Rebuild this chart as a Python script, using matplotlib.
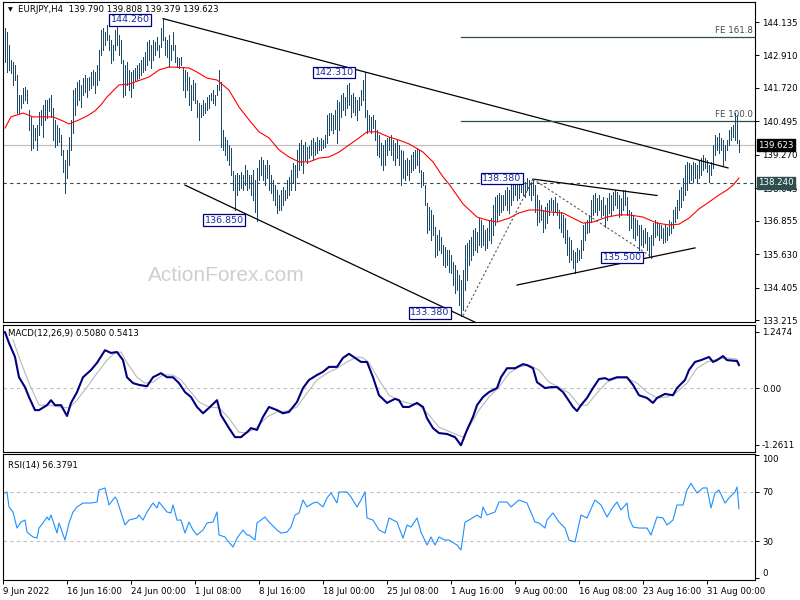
import matplotlib
matplotlib.use("Agg")
import matplotlib.pyplot as plt
import matplotlib.transforms as mtransforms

# EURJPY H4, una barra cada 4 horas (maximos y minimos)
maximos = [
    143.92, 143.77, 143.29, 142.74, 142.67, 142.56, 142.19, 141.46, 141.46, 141.72,
    141.75, 141.64, 140.91, 140.66, 140.36, 140.25, 140.36, 140.84, 140.91, 141.10,
    141.28, 141.28, 141.35, 141.46, 140.98, 140.55, 140.36, 140.25, 140.00, 139.45,
    139.08, 139.45, 139.92, 140.55, 141.64, 141.72, 141.94, 142.01, 141.83, 142.08,
    142.19, 142.08, 142.12, 142.30, 142.38, 142.30, 142.56, 143.11, 143.84, 143.92,
    143.77, 144.03, 143.66, 143.48, 143.29, 143.84, 144.21, 143.66, 143.48, 142.74,
    142.56, 142.67, 142.38, 142.30, 142.38, 142.45, 142.56, 142.63, 142.74, 142.85,
    143.04, 143.40, 143.48, 143.29, 143.48, 143.40, 143.59, 143.29, 143.92, 144.26,
    143.59, 143.48, 143.66, 143.29, 143.77, 143.29, 142.85, 142.82, 142.85, 142.49,
    142.38, 142.30, 142.12, 141.83, 142.01, 141.90, 141.28, 141.17, 141.10, 141.28,
    141.17, 141.39, 141.46, 141.53, 141.64, 141.46, 141.83, 142.38, 141.94, 140.18,
    139.92, 139.81, 139.63, 139.52, 138.68, 138.53, 138.60, 138.53, 138.64, 138.53,
    138.90, 138.71, 138.53, 138.53, 138.71, 138.35, 138.79, 139.08, 139.19, 139.08,
    138.90, 139.08, 138.90, 138.53, 138.35, 138.16, 137.98, 137.80, 137.98, 138.09,
    137.98, 138.35, 138.46, 138.71, 138.97, 138.90, 139.45, 139.70, 139.81, 139.63,
    139.74, 139.56, 139.59, 139.81, 139.88, 139.74, 139.92, 139.81, 139.88, 139.81,
    140.00, 140.73, 140.80, 140.80, 140.73, 140.91, 141.28, 141.21, 141.46, 141.53,
    141.39, 141.83, 141.90, 141.46, 141.53, 141.39, 141.28, 141.39, 141.64, 142.01,
    142.31, 140.91, 140.73, 140.66, 140.73, 140.55, 140.18, 140.00, 139.70, 139.63,
    139.81, 139.88, 139.92, 140.00, 139.81, 139.70, 139.81, 139.63, 139.45, 139.41,
    139.08, 139.15, 139.08, 139.26, 139.37, 139.45, 139.52, 139.45, 138.71, 138.64,
    138.16, 137.50, 137.36, 137.25, 137.07, 136.63, 136.33, 136.52, 136.26, 135.97,
    135.89, 135.78, 135.78, 135.60, 135.34, 135.23, 135.05, 134.87, 134.68, 135.05,
    135.97, 136.04, 136.15, 136.26, 136.52, 136.59, 136.44, 136.95, 136.88, 136.70,
    136.52, 136.59, 136.88, 136.95, 137.43, 137.73, 137.80, 137.87, 137.80, 137.80,
    137.98, 138.09, 137.98, 138.24, 138.35, 138.42, 138.28, 138.16, 138.42, 138.35,
    138.28, 138.42, 138.35, 138.28, 138.38, 138.16, 137.80, 137.61, 137.43, 137.25,
    137.36, 137.50, 137.61, 137.69, 137.61, 137.73, 137.50, 137.25, 137.18, 137.07,
    136.95, 136.52, 136.26, 136.15, 135.78, 135.71, 135.86, 135.78, 136.15, 136.70,
    136.81, 136.88, 137.07, 137.61, 137.80, 137.87, 137.69, 137.80, 137.61, 137.73,
    137.43, 137.69, 137.87, 137.80, 137.91, 137.98, 137.91, 137.80, 137.69, 137.98,
    137.98, 137.73, 137.25, 137.18, 137.07, 136.95, 136.88, 136.70, 136.70, 136.52,
    136.59, 136.44, 136.26, 136.33, 136.77, 136.88, 136.81, 136.77, 136.70, 136.59,
    136.70, 136.63, 136.88, 136.81, 137.25, 137.36, 137.61, 137.98, 138.09, 138.42,
    138.90, 139.01, 138.97, 138.90, 139.01, 138.97, 138.90, 139.08, 139.15, 139.26,
    139.15, 139.08, 138.90, 139.01, 139.63, 140.00, 139.92, 140.07, 139.88, 139.81,
    139.63, 139.81, 140.18, 140.29, 140.36, 140.80, 140.73, 139.81,
]
minimos = [
    142.67, 142.30, 142.38, 142.27, 141.83, 142.01, 140.80, 140.80, 140.98, 141.17,
    141.28, 141.17, 140.18, 139.45, 139.52, 139.81, 139.45, 140.00, 140.36, 139.92,
    140.55, 140.62, 140.88, 140.66, 139.81, 139.56, 139.63, 139.74, 139.26, 138.64,
    137.87, 138.42, 138.90, 139.45, 140.07, 140.73, 141.10, 141.28, 141.02, 141.46,
    141.57, 141.39, 141.64, 141.72, 141.83, 141.53, 141.83, 142.01, 142.93, 143.11,
    143.29, 143.48, 143.11, 142.63, 142.74, 143.11, 143.29, 142.93, 142.63, 141.39,
    141.46, 141.83, 141.64, 141.39, 141.72, 142.01, 142.01, 142.08, 142.19, 142.30,
    142.38, 142.56, 142.74, 142.45, 142.74, 142.93, 143.11, 142.85, 143.22, 143.48,
    142.93, 142.85, 142.49, 142.74, 143.11, 142.67, 142.49, 142.45, 142.56, 141.64,
    141.39, 141.64, 141.10, 140.91, 141.28, 141.17, 140.66, 139.81, 140.66, 140.73,
    140.80, 140.91, 140.98, 141.28, 141.17, 141.10, 141.46, 141.64, 139.56, 139.45,
    139.26, 139.08, 138.90, 138.53, 137.98, 137.25, 137.80, 137.98, 138.05, 137.98,
    138.16, 137.98, 138.05, 137.80, 137.61, 137.18, 136.85, 138.35, 138.53, 138.35,
    138.16, 138.42, 137.98, 137.87, 137.61, 137.43, 137.14, 137.25, 137.25, 137.43,
    137.61, 137.69, 137.80, 137.98, 138.24, 137.98, 138.46, 138.71, 138.90, 138.60,
    139.08, 138.97, 139.15, 139.26, 139.08, 139.26, 139.34, 139.45, 139.45, 139.52,
    139.56, 139.70, 140.00, 140.18, 140.07, 140.22, 139.70, 140.18, 140.66, 140.91,
    140.73, 140.98, 141.10, 140.66, 140.84, 140.73, 140.55, 140.91, 141.10, 141.28,
    140.66, 140.07, 140.18, 140.07, 140.25, 139.81, 139.26, 139.19, 138.90, 138.71,
    138.90, 139.26, 139.45, 139.26, 139.08, 138.90, 139.15, 138.90, 138.16, 138.42,
    138.35, 138.53, 138.35, 138.64, 138.71, 138.79, 138.90, 138.64, 138.09, 138.16,
    137.43, 136.41, 136.52, 136.15, 136.33, 135.53, 135.60, 135.78, 135.67, 135.23,
    135.16, 135.23, 134.98, 134.94, 134.50, 134.21, 134.32, 133.77, 133.38, 133.59,
    134.32, 134.68, 135.23, 135.42, 135.60, 135.78, 135.71, 135.97, 135.89, 135.97,
    135.78, 135.86, 136.15, 136.04, 136.33, 136.70, 136.88, 137.07, 137.18, 137.25,
    137.43, 137.25, 137.14, 137.43, 137.61, 137.80, 137.61, 137.69, 137.91, 137.80,
    137.73, 137.98, 137.80, 137.61, 137.80, 137.18, 136.70, 136.81, 136.88, 136.44,
    136.59, 136.77, 137.07, 137.25, 137.07, 137.18, 137.07, 136.59, 136.44, 136.26,
    136.04, 135.60, 135.34, 135.42, 135.12, 134.94, 135.34, 135.42, 135.49, 135.78,
    136.15, 136.41, 136.44, 136.81, 137.07, 137.18, 137.07, 137.25, 136.99, 137.07,
    136.63, 136.88, 137.14, 137.07, 137.25, 137.43, 137.32, 136.99, 137.07, 137.25,
    137.43, 137.07, 136.52, 136.59, 136.22, 136.15, 136.33, 135.78, 135.97, 135.89,
    136.04, 135.78, 135.53, 135.50, 135.97, 136.26, 136.33, 136.15, 136.22, 136.04,
    136.08, 136.15, 136.33, 136.41, 136.59, 136.81, 136.95, 137.25, 137.36, 137.61,
    137.80, 137.98, 138.24, 138.35, 138.28, 138.42, 138.24, 138.42, 138.53, 138.71,
    138.79, 138.64, 138.28, 138.53, 138.79, 139.26, 139.45, 139.34, 139.45, 138.90,
    139.08, 139.45, 139.63, 139.81, 139.92, 139.81, 139.70, 139.38,
]

# media movil (roja): numero de barra y valor
ma_barra = [0, 3, 9, 14, 24, 29, 32, 37, 41, 45, 48, 51, 54, 57, 62, 72, 77, 82, 92, 96,
            101, 106, 112, 117, 122, 127, 132, 137, 142, 147, 152, 157, 162, 167, 172, 177,
            181, 186, 192, 197, 202, 209, 214, 219, 222, 229, 236, 241, 246, 252, 257, 262,
            267, 272, 279, 284, 289, 294, 301, 307, 312, 319, 326, 332, 337, 342, 347, 352,
            357, 361, 364, 367]
ma_valor = [140.25, 140.66, 140.80, 140.66, 140.66, 140.51, 140.40, 140.55, 140.69, 140.88,
            141.10, 141.39, 141.61, 141.83, 141.86, 142.12, 142.38, 142.49, 142.45, 142.30,
            142.08, 142.01, 141.64, 141.02, 140.55, 140.11, 139.89, 139.45, 139.19, 139.01,
            139.01, 139.15, 139.19, 139.37, 139.63, 139.89, 140.11, 140.11, 139.92, 139.81,
            139.67, 139.37, 139.01, 138.46, 138.20, 137.47, 136.99, 136.88, 136.81, 136.95,
            137.14, 137.25, 137.25, 137.18, 137.14, 136.95, 136.77, 136.81, 136.99, 137.07,
            137.07, 136.99, 136.77, 136.70, 136.73, 136.95, 137.29, 137.54, 137.80, 137.98,
            138.16, 138.42]

# MACD(12,26,9)
macd_barra = [0, 2, 5, 7, 10, 12, 15, 17, 21, 23, 25, 28, 31, 33, 36, 39, 43, 46, 50, 53,
              56, 59, 61, 64, 67, 71, 74, 78, 81, 84, 87, 90, 93, 96, 99, 102, 106, 108, 112,
              115, 118, 121, 123, 126, 129, 132, 136, 139, 142, 146, 149, 152, 156, 159, 162,
              166, 169, 172, 175, 178, 181, 184, 187, 191, 195, 197, 199, 202, 206, 209, 211,
              214, 217, 221, 225, 228, 231, 234, 236, 239, 242, 246, 248, 251, 255, 259, 261,
              264, 266, 270, 273, 276, 279, 281, 284, 286, 288, 291, 294, 297, 300, 302, 306,
              311, 314, 317, 321, 324, 326, 330, 334, 336, 340, 342, 345, 348, 352, 354, 356,
              359, 361, 366, 367]
macd_valor = [1.24, 1.00, 0.69, 0.24, 0.02, -0.20, -0.49, -0.49, -0.38, -0.27, -0.38, -0.38,
              -0.62, -0.33, -0.09, 0.24, 0.40, 0.56, 0.84, 0.78, 0.80, 0.62, 0.24, 0.11, 0.07,
              0.04, 0.24, 0.33, 0.24, 0.24, 0.11, -0.09, -0.20, -0.42, -0.56, -0.44, -0.27,
              -0.60, -0.89, -1.09, -1.09, -0.98, -0.89, -0.93, -0.64, -0.42, -0.49, -0.56,
              -0.53, -0.31, 0.00, 0.18, 0.29, 0.36, 0.47, 0.47, 0.67, 0.76, 0.67, 0.58, 0.58,
              0.24, -0.16, -0.33, -0.24, -0.27, -0.42, -0.42, -0.33, -0.42, -0.67, -0.89,
              -1.00, -1.02, -1.09, -1.27, -0.93, -0.64, -0.38, -0.20, -0.09, 0.00, 0.24, 0.44,
              0.44, 0.53, 0.51, 0.44, 0.13, 0.00, 0.02, 0.02, -0.09, -0.22, -0.42, -0.51,
              -0.38, -0.22, 0.00, 0.20, 0.22, 0.18, 0.24, 0.24, 0.07, -0.16, -0.22, -0.33,
              -0.22, -0.13, -0.16, 0.00, 0.18, 0.40, 0.58, 0.62, 0.69, 0.58, 0.62, 0.71, 0.62,
              0.60, 0.51]
senal_barra = [4, 7, 12, 17, 22, 27, 32, 36, 41, 46, 51, 55, 58, 61, 66, 70, 74, 79, 84, 88,
               92, 97, 102, 107, 112, 117, 121, 126, 131, 136, 141, 146, 151, 156, 161, 166,
               171, 176, 179, 182, 187, 192, 197, 201, 207, 212, 217, 224, 229, 232, 237, 242,
               247, 252, 257, 262, 267, 272, 277, 282, 287, 291, 296, 301, 306, 311, 316, 321,
               326, 331, 336, 341, 346, 351, 356, 361, 366, 367]
senal_valor = [1.07, 0.69, 0.11, -0.38, -0.38, -0.42, -0.44, -0.27, 0.02, 0.33, 0.62, 0.78,
               0.80, 0.56, 0.24, 0.11, 0.13, 0.29, 0.29, 0.18, -0.04, -0.31, -0.42, -0.44,
               -0.67, -0.98, -1.00, -0.87, -0.64, -0.53, -0.51, -0.42, -0.11, 0.18, 0.33, 0.44,
               0.58, 0.69, 0.67, 0.56, 0.18, -0.16, -0.27, -0.33, -0.38, -0.60, -0.87, -1.00,
               -1.09, -0.87, -0.49, -0.20, 0.02, 0.33, 0.47, 0.51, 0.40, 0.13, 0.02, -0.11,
               -0.38, -0.38, -0.11, 0.13, 0.22, 0.22, 0.11, -0.09, -0.22, -0.20, -0.09, 0.11,
               0.44, 0.58, 0.64, 0.67, 0.64, 0.54]

# RSI(14)
rsi_barra = [0, 1, 2, 4, 6, 8, 10, 11, 14, 16, 17, 19, 21, 22, 23, 26, 27, 30, 32, 34, 36,
             39, 41, 43, 46, 47, 50, 52, 55, 56, 60, 62, 66, 67, 69, 71, 74, 76, 77, 81, 83,
             84, 86, 88, 90, 92, 94, 96, 99, 101, 104, 106, 107, 110, 111, 114, 116, 119, 121,
             122, 125, 126, 130, 132, 136, 138, 141, 143, 145, 147, 149, 151, 154, 156, 159,
             161, 163, 166, 167, 171, 173, 176, 178, 180, 181, 184, 187, 190, 192, 196, 197,
             199, 201, 203, 206, 208, 211, 213, 215, 217, 220, 222, 226, 228, 230, 232, 236,
             238, 239, 241, 245, 247, 251, 253, 257, 261, 265, 267, 270, 271, 274, 277, 280,
             282, 285, 286, 288, 291, 295, 298, 301, 304, 306, 308, 311, 312, 314, 317, 321,
             323, 326, 329, 331, 334, 336, 339, 341, 343, 346, 349, 351, 353, 355, 357, 360,
             362, 365, 366, 367]
rsi_valor = [69.2, 70.0, 57.8, 53.7, 40.6, 45.5, 47.1, 37.3, 33.3, 32.4, 40.6, 44.7, 49.6,
             47.1, 51.2, 36.5, 44.7, 30.8, 44.7, 53.7, 57.8, 61.0, 61.0, 61.0, 61.8, 71.6,
             73.3, 59.4, 65.9, 63.5, 43.1, 47.1, 48.8, 51.2, 47.1, 53.7, 61.0, 57.0, 61.8,
             53.7, 52.9, 59.4, 47.1, 47.1, 36.5, 45.5, 39.0, 34.9, 39.0, 44.7, 45.5, 53.7,
             34.9, 33.3, 30.8, 25.1, 32.4, 39.0, 34.9, 34.9, 30.8, 44.7, 49.6, 45.5, 39.0,
             36.5, 37.3, 41.4, 51.2, 52.9, 63.5, 57.8, 61.0, 61.8, 57.8, 65.1, 69.2, 61.0,
             70.0, 70.0, 65.9, 57.8, 63.5, 70.0, 48.8, 47.1, 39.0, 36.5, 48.8, 45.5, 41.0,
             32.4, 43.1, 41.4, 48.8, 37.3, 26.7, 33.3, 26.7, 33.3, 30.8, 30.8, 26.7, 22.7,
             45.5, 47.1, 51.2, 48.8, 57.8, 51.2, 53.7, 61.8, 61.8, 57.8, 63.5, 61.0, 45.5,
             44.7, 40.6, 47.1, 52.9, 45.5, 40.6, 30.8, 29.2, 36.5, 51.2, 48.8, 63.5, 59.4,
             49.6, 57.8, 61.8, 55.3, 61.0, 48.8, 41.4, 40.6, 40.6, 34.9, 49.6, 48.8, 43.1,
             47.1, 59.4, 59.4, 71.6, 77.0, 69.2, 73.3, 73.3, 57.0, 69.2, 71.6, 61.0, 65.1,
             70.0, 74.1, 56.4]

# etiquetas de precio (barra, precio, texto)
etiquetas = [(62.5, 144.21, "144.260"), (164.5, 142.29, "142.310"), (109.5, 136.88, "136.850"),
             (212.5, 133.48, "133.380"), (248.5, 138.40, "138.380"), (308.5, 135.51, "135.500")]

# lineas de tendencia dibujadas por el analista (barra1, precio1, barra2, precio2)
tendencias = [(79, 144.26, 361.5, 138.79), (90, 138.16, 235, 133.14),
              (264, 138.38, 326, 137.78), (256, 134.50, 345, 135.86)]
punteadas = [(229, 133.38, 264, 138.38), (264, 138.38, 324, 135.50)]
fe_niveles = [(143.59, "FE 161.8"), (140.51, "FE 100.0")]

precio_ticks = [144.135, 142.910, 141.720, 140.495, 139.270, 138.045, 136.855, 135.630, 134.405, 133.215]
fechas = ["9 Jun 2022", "16 Jun 16:00", "24 Jun 00:00", "1 Jul 08:00", "8 Jul 16:00", "18 Jul 00:00",
          "25 Jul 08:00", "1 Aug 16:00", "9 Aug 00:00", "16 Aug 08:00", "23 Aug 16:00", "31 Aug 00:00"]
fecha_barra = [-1 + 32 * k for k in range(len(fechas))]

precio_actual = 139.623
nivel_clave = 138.240

color_barra = "#1d4a6a"
fuente = 6.2

fig = plt.figure(figsize=(8, 6), dpi=100)
ax1 = fig.add_axes([3 / 800, 1 - 322 / 600, 752 / 800, 320 / 600])
ax2 = fig.add_axes([3 / 800, 1 - 452 / 600, 752 / 800, 127 / 600])
ax3 = fig.add_axes([3 / 800, 1 - 580 / 600, 752 / 800, 126 / 600])

for ax in (ax1, ax2, ax3):
    ax.set_xlim(-1, 375)
    for s in ax.spines.values():
        s.set_linewidth(0.8)
    ax.yaxis.tick_right()
    ax.tick_params(axis="y", length=3, width=0.7, labelsize=fuente, pad=2)
    ax.tick_params(axis="x", bottom=False, labelbottom=False)

# ---- panel de precio ----
ax1.set_ylim(133.146, 144.868)
ax1.set_yticks(precio_ticks)
ax1.set_yticklabels([f"{v:.3f}" for v in precio_ticks])

# marca de agua
ax1.text(110.5, 134.85, "ActionForex.com", fontsize=15, color="#cfcfcf",
         family="Liberation Sans", ha="center", va="center", zorder=0)

ax1.axhline(precio_actual, color="#c0c0c0", lw=0.9, zorder=1)
ax1.axhline(nivel_clave, color="#2f4f4f", lw=0.8, ls=(0, (3, 3)), zorder=1)

ax1.vlines(range(len(maximos)), minimos, maximos, color=color_barra, lw=0.45,
           antialiased=False, zorder=2)
ax1.plot(ma_barra, ma_valor, color="red", lw=0.8, zorder=3)

for b1, p1, b2, p2 in tendencias:
    ax1.plot([b1, b2], [p1, p2], color="black", lw=0.9, zorder=3)
for b1, p1, b2, p2 in punteadas:
    ax1.plot([b1, b2], [p1, p2], color="#555555", lw=0.8, ls=(0, (2, 2)), zorder=3)
for nivel, texto in fe_niveles:
    ax1.plot([228, 375], [nivel, nivel], color="#2f4f4f", lw=0.9, zorder=3)
    ax1.text(374, nivel + 0.06, texto, fontsize=fuente, color="#3c4a50",
             ha="right", va="bottom", zorder=4)

for b, p, texto in etiquetas:
    ax1.text(b, p, texto, fontsize=6.8, color="#1c2f9c", ha="center", va="center", zorder=5,
             bbox=dict(boxstyle="square,pad=0.12", fc="white", ec="#000080", lw=0.9))

trans = mtransforms.blended_transform_factory(ax1.transAxes, ax1.transData)
ax1.text(1.004, precio_actual, f"{precio_actual:.3f}", transform=trans, fontsize=fuente,
         color="white", ha="left", va="center", clip_on=False, zorder=6,
         bbox=dict(boxstyle="square,pad=0.15", fc="black", ec="black"))
ax1.text(1.004, nivel_clave, f"{nivel_clave:.3f}", transform=trans, fontsize=fuente,
         color="white", ha="left", va="center", clip_on=False, zorder=6,
         bbox=dict(boxstyle="square,pad=0.15", fc="#2f4f4f", ec="#2f4f4f"))

fig.text(10 / 800, 1 - 10 / 600, "\u25bc", fontsize=4.5, va="center", ha="center")
fig.text(18 / 800, 1 - 10 / 600, "EURJPY,H4  139.790 139.808 139.379 139.623",
         fontsize=fuente, va="center", ha="left")

# ---- panel MACD ----
ax2.set_ylim(-1.42, 1.40)
ax2.set_yticks([1.2474, 0.0, -1.2611])
ax2.set_yticklabels(["1.2474", "0.00", "-1.2611"])
ax2.axhline(0, color="#c0c0c0", lw=0.8, ls=(0, (3, 3)))
ax2.plot(senal_barra, senal_valor, color="#b8b8b8", lw=0.8)
ax2.plot(macd_barra, macd_valor, color="#000080", lw=1.5)
ax2.text(0.006, 0.93, "MACD(12,26,9) 0.5080 0.5413", transform=ax2.transAxes,
         fontsize=fuente, va="center", ha="left")

# ---- panel RSI ----
ax3.set_ylim(-1.8, 101)
ax3.set_yticks([0, 30, 70, 100])
ax3.set_yticklabels(["0", "30", "70", "100"])
lbls = ax3.get_yticklabels()
lbls[0].set_va("bottom")
lbls[3].set_va("top")
ax3.axhline(70, color="#c0c0c0", lw=0.8, ls=(0, (3, 3)))
ax3.axhline(30, color="#c0c0c0", lw=0.8, ls=(0, (3, 3)))
ax3.plot(rsi_barra, rsi_valor, color="#1e90ff", lw=0.8)
ax3.text(0.006, 0.91, "RSI(14) 56.3791", transform=ax3.transAxes,
         fontsize=fuente, va="center", ha="left")

ax3.tick_params(axis="x", bottom=True, labelbottom=True, length=3, width=0.7,
                labelsize=fuente, pad=2)
ax3.set_xticks(fecha_barra)
ax3.set_xticklabels(fechas, ha="left")

fig.savefig("out.png", dpi=100, facecolor="white")
